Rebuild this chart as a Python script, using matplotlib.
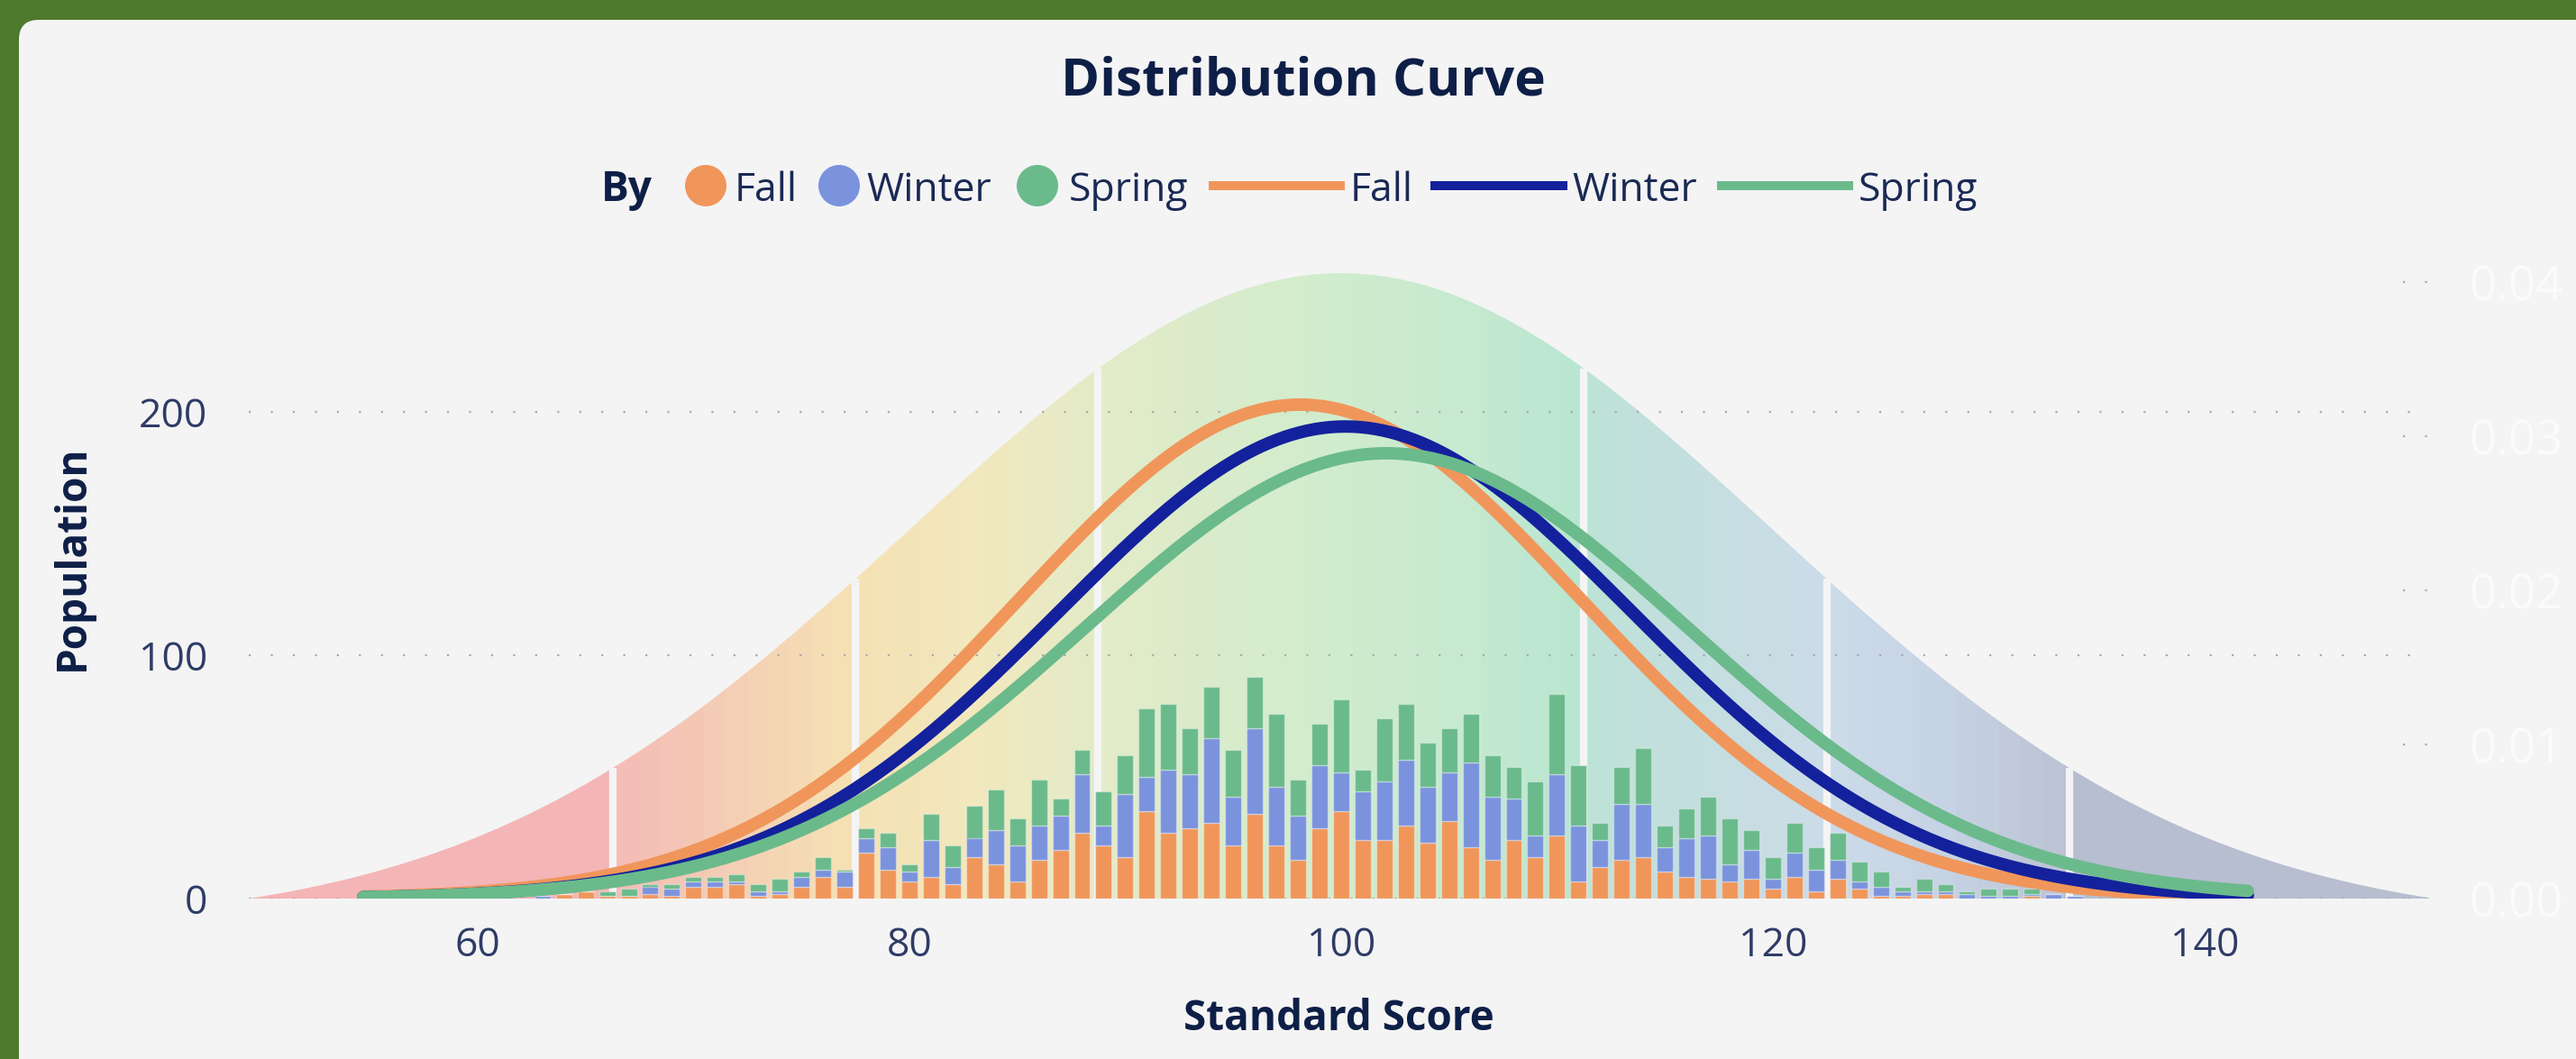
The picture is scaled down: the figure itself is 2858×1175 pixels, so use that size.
import numpy as np
import matplotlib
matplotlib.use("Agg")
import matplotlib.pyplot as plt
from matplotlib.patches import Circle, FancyBboxPatch, Polygon
from matplotlib.lines import Line2D
from matplotlib.colors import to_rgb

# standard score bins and stacked population per season
scores = list(range(63, 135))
fall = [0, 2, 3, 1, 1, 2, 1, 5, 5, 6, 1, 2, 5, 9, 5, 19, 12, 7, 9, 6,
        17, 14, 7, 16, 20, 27, 22, 17, 36, 27, 29, 31, 22, 35, 22, 16, 29, 36, 24, 24,
        30, 23, 32, 21, 16, 24, 17, 26, 7, 13, 16, 17, 11, 9, 8, 7, 8, 4, 9, 3,
        8, 4, 1, 1, 2, 2, 0, 0, 0, 1, 0, 0]
winter = [1, 0, 0, 0, 0, 3, 3, 2, 2, 1, 2, 1, 4, 3, 6, 6, 9, 4, 15, 7,
          8, 14, 15, 14, 14, 24, 8, 26, 14, 26, 22, 35, 20, 35, 24, 18, 26, 16, 20, 24,
          27, 23, 20, 35, 26, 17, 9, 25, 23, 11, 23, 22, 10, 16, 18, 7, 12, 4, 10, 9,
          8, 3, 4, 2, 1, 1, 2, 1, 1, 1, 2, 1]
spring = [0, 0, 0, 2, 3, 1, 2, 2, 2, 3, 3, 5, 2, 5, 1, 4, 6, 3, 11, 9,
          13, 17, 11, 19, 7, 10, 14, 16, 28, 27, 19, 21, 19, 21, 30, 15, 17, 30, 9, 26,
          23, 18, 18, 20, 17, 13, 22, 33, 25, 7, 15, 23, 9, 12, 16, 19, 8, 9, 12, 9,
          11, 8, 6, 2, 5, 3, 1, 3, 3, 2, 0, 0]

seasons = ["Fall", "Winter", "Spring"]
bar_colors = ["#F0965B", "#7B93DD", "#6BBA8C"]
line_colors = ["#F0965B", "#13219C", "#6BBA8C"]

# fitted curves: mean, sd, peak population
curve_mean = [98.1, 100.2, 102.1]
curve_sd = [13.0, 13.3, 14.0]
curve_peak = [203, 194, 183]
curve_from, curve_to = 54.7, 142.0

# background bell and its band edges
bell_mean, bell_sd, bell_peak = 100, 20, 257
band_edges = [66.25, 77.5, 88.75, 111.25, 122.5, 133.75]
band_stops = [(49.4, "#F4B5B6"), (66.2, "#F4B5B6"), (66.3, "#F4BBB7"), (72, "#F5CFB5"),
              (77.3, "#F5E2B4"), (83, "#F2E8BE"), (88.7, "#E4EBC8"), (95, "#D8ECCB"),
              (100, "#D0ECCE"), (106, "#C6E9D0"), (111.2, "#B8E6D1"), (111.3, "#BEE3D8"),
              (117, "#C5DEE0"), (122.4, "#CCDCE9"), (128, "#C6D3E4"), (133.7, "#BCC3D4"),
              (133.8, "#B6BECF"), (150.4, "#B6BECF")]

y_ticks = [0, 100, 200]
x_ticks = [60, 80, 100, 120, 140]
right_ticks = [0.0, 0.01, 0.02, 0.03, 0.04]

W, H = 2858, 1175
navy = "#0E1F47"
tick_c = "#2E3C66"
card_bg = "#F4F4F4"
plt.rcParams["font.family"] = ["Open Sans", "DejaVu Sans"]


def fx(px):
    return px / W


def fy(py):
    return 1 - py / H


fig = plt.figure(figsize=(W / 100, H / 100), dpi=100)
fig.patch.set_facecolor("#4E7A2C")
fig.add_artist(FancyBboxPatch((0.21, -0.3), 28.8, 11.83, boxstyle="round,pad=0,rounding_size=0.22",
                              transform=fig.dpi_scale_trans, facecolor=card_bg, edgecolor="none", zorder=-5))

x0, x1 = 49.4, 150.4
y_top = 280
left, right = 276, 2695
bottom = 997
top = bottom - y_top * 2.7
ax = fig.add_axes([fx(left), fy(bottom), fx(right) - fx(left), (bottom - top) / H])
ax.set_facecolor("none")

# background bell with stepped colour gradient
xs = np.linspace(x0, x1, 600)
g = np.exp(-0.5 * ((xs - bell_mean) / bell_sd) ** 2)
g_edge = np.exp(-0.5 * ((x0 - bell_mean) / bell_sd) ** 2)
bell = bell_peak * (g - g_edge) / (1 - g_edge)
poly = Polygon(np.column_stack([np.r_[xs, x1, x0], np.r_[bell, 0, 0]]), closed=True,
               facecolor="none", edgecolor="none")
ax.add_patch(poly)
stripe_x = np.arange(np.floor(x0), np.ceil(x1) + 1)
sx = [s[0] for s in band_stops]
rgb = np.array([to_rgb(s[1]) for s in band_stops])
cols = np.stack([np.interp(stripe_x, sx, rgb[:, k]) for k in range(3)], axis=1)
im = ax.imshow(cols[np.newaxis, :, :], extent=[stripe_x[0] - 0.5, stripe_x[-1] + 0.5, 0, bell_peak],
               aspect="auto", interpolation="nearest", zorder=0.2)
im.set_clip_path(poly)
ax.set_xlim(x0, x1)
ax.set_ylim(0, y_top)

edge_h = np.interp(band_edges, xs, bell)
ax.vlines(band_edges, 0, edge_h, color=card_bg, lw=6, zorder=0.3)

# stacked bars
base = np.zeros(len(scores))
for vals, c in zip([fall, winter, spring], bar_colors):
    ax.bar(scores, vals, width=0.75, bottom=base, color=c, edgecolor=(1, 1, 1, 0.35),
           linewidth=1.0, zorder=2)
    base += np.array(vals)

# fitted curves
cx = np.linspace(curve_from, curve_to, 500)
for m, s, p, c in zip(curve_mean, curve_sd, curve_peak, line_colors):
    ax.plot(cx, p * np.exp(-0.5 * ((cx - m) / s) ** 2), color=c, lw=10,
            solid_capstyle="round", zorder=3)

ax.set_axisbelow(True)
ax.yaxis.grid(True, color="#A9A9A9", linestyle=(0, (1, 10)), linewidth=1.6)
ax.xaxis.grid(False)
for sp in ax.spines.values():
    sp.set_visible(False)
ax.set_yticks(y_ticks)
ax.set_xticks(x_ticks)
ax.tick_params(axis="both", length=0, labelsize=32, colors=tick_c)
ax.tick_params(axis="y", pad=33)
ax.tick_params(axis="x", pad=22)
ax.set_xlabel("Standard Score", fontsize=33, fontweight="bold", color=navy, labelpad=25)
ax.set_ylabel("Population", fontsize=33, fontweight="bold", color=navy, labelpad=36)

# secondary (density) axis, nearly invisible as in the source
ax2 = ax.twinx()
ax2.set_ylim(0, y_top / 6330)
ax2.set_yticks(right_ticks)
ax2.set_yticklabels([f"{t:.2f}" for t in right_ticks])
ax2.tick_params(axis="y", length=0, labelsize=38, colors="#FBFBFB", pad=32)
for sp in ax2.spines.values():
    sp.set_visible(False)
ax2.hlines(right_ticks, 149.2, 150.4, color="#A9A9A9", linestyle=(0, (1, 10)), linewidth=1.6)

# title
fig.text(fx(1446), fy(105), "Distribution Curve", ha="center", va="baseline",
         fontsize=42, fontweight="bold", color=navy)

# legend
leg_c = "#1A2A55"
ly = 206
base_y = 223
fig.text(fx(667), fy(base_y), "By", ha="left", va="baseline", fontsize=33,
         fontweight="bold", color=navy)
for cxp, tx, name, c in zip([783, 931, 1151], [815, 961, 1186], seasons, bar_colors):
    fig.add_artist(Circle((cxp / 100, (H - ly) / 100), 0.23, transform=fig.dpi_scale_trans,
                          facecolor=c, edgecolor="none"))
    fig.text(fx(tx), fy(base_y), name, ha="left", va="baseline", fontsize=32, color=leg_c)
for (l0, l1), tx, name, c in zip([(1341, 1492), (1587, 1739), (1905, 2056)],
                                 [1498, 1744, 2062], seasons, line_colors):
    fig.add_artist(Line2D([fx(l0), fx(l1)], [fy(ly), fy(ly)], transform=fig.transFigure,
                          color=c, lw=7.2, solid_capstyle="butt"))
    fig.text(fx(tx), fy(base_y), name, ha="left", va="baseline", fontsize=32, color=leg_c)

fig.savefig("out.png", dpi=100, facecolor=fig.get_facecolor())
